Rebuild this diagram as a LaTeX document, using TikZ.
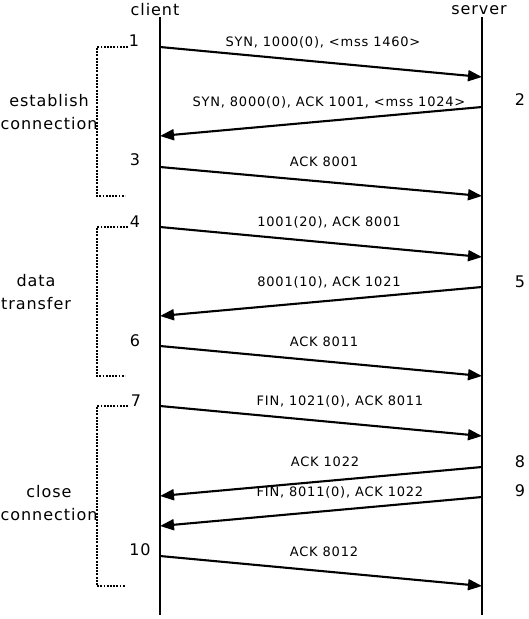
\documentclass[tikz,border=0pt]{standalone}
\usepackage{fontspec}
\setmainfont{DejaVu Sans}[LetterSpace=6]
\usetikzlibrary{arrows.meta,positioning}

\begin{document}
\begin{tikzpicture}[x=1pt,y=-1pt,>={Triangle[length=14pt,width=11pt]}, font=\fontsize{16}{23}\selectfont, align=center]

    \tikzstyle{life}=[line width=2.5pt]
    \tikzstyle{msg}=[->,line width=2.1pt]
    \tikzstyle{lbl}=[font=\fontsize{13}{15}\selectfont, inner sep=0pt, midway, yshift=19.5pt]
    \tikzstyle{phase}=[line width=2.5pt, dash pattern=on 1.9pt off 1.3pt]

    \useasboundingbox (0,0) rectangle (528,619);

    % hosts
    \node (client) at (155,10) {client};
    \node (server) at (479,10) {server};
    \coordinate (ctop) at (160,17);  \coordinate (cbot) at (160,615);
    \coordinate (stop) at (482,17);  \coordinate (sbot) at (482,615);
    \draw[life] (ctop) -- (cbot);
    \draw[life] (stop) -- (sbot);

    % segment end points
    \coordinate (c1) at (160,47);   \coordinate (s1) at (482,77);
    \coordinate (s2) at (482,107);  \coordinate (c2) at (160,136);
    \coordinate (c3) at (160,167);  \coordinate (s3) at (482,196);
    \coordinate (c4) at (160,227);  \coordinate (s4) at (482,257);
    \coordinate (s5) at (482,287);  \coordinate (c5) at (160,316);
    \coordinate (c6) at (160,346);  \coordinate (s6) at (482,376);
    \coordinate (c7) at (160,406);  \coordinate (s7) at (482,436);
    \coordinate (s8) at (482,467);  \coordinate (c8) at (160,496);
    \coordinate (s9) at (482,497);  \coordinate (c9) at (160,526);
    \coordinate (c10) at (160,556); \coordinate (s10) at (482,586);

    \draw[msg] (c1) -- node[lbl, xshift=2pt]  {SYN, 1000(0), <mss 1460>}              (s1);
    \draw[msg] (s2) -- node[lbl, xshift=8pt]  {SYN, 8000(0), ACK 1001, <mss 1024>}    (c2);
    \draw[msg] (c3) -- node[lbl, xshift=3pt]  {ACK 8001}                              (s3);
    \draw[msg] (c4) -- node[lbl, xshift=8pt]  {1001(20), ACK 8001}                    (s4);
    \draw[msg] (s5) -- node[lbl, xshift=8pt]  {8001(10), ACK 1021}                    (c5);
    \draw[msg] (c6) -- node[lbl, xshift=3pt]  {ACK 8011}                              (s6);
    \draw[msg] (c7) -- node[lbl, xshift=19pt] {FIN, 1021(0), ACK 8011}                (s7);
    \draw[msg] (s8) -- node[lbl, xshift=4pt]  {ACK 1022}                              (c8);
    \draw[msg] (s9) -- node[lbl, xshift=19pt] {FIN, 8011(0), ACK 1022}                (c9);
    \draw[msg] (c10) -- node[lbl, xshift=3pt] {ACK 8012}                              (s10);

    % step numbers
    \node (n1) at (134,41)  {1};
    \node (n2) at (520,100) {2};
    \node (n3) at (135,160) {3};
    \node (n4) at (135,222) {4};
    \node (n5) at (520,282) {5};
    \node (n6) at (135,341) {6};
    \node (n7) at (136,401) {7};
    \node (n8) at (520,462) {8};
    \node (n9) at (520,491) {9};
    \node (n10) at (140,550) {10};

    % phases
    \coordinate (p1) at (128,47);
    \coordinate (p2) at (128,227);
    \coordinate (p3) at (128,406);
    \draw[phase] (p1) -| ++(-31,149) -- ++(28,0);
    \draw[phase] (p2) -| ++(-31,149) -- ++(28,0);
    \draw[phase] (p3) -| ++(-31,180) -- ++(28,0);

    \node (establish) at (49,112) {establish\\connection};
    \node (transfer)  at (36,292) {data\\transfer};
    \node (close)     at (49,503) {close\\connection};
\end{tikzpicture}
\end{document}
